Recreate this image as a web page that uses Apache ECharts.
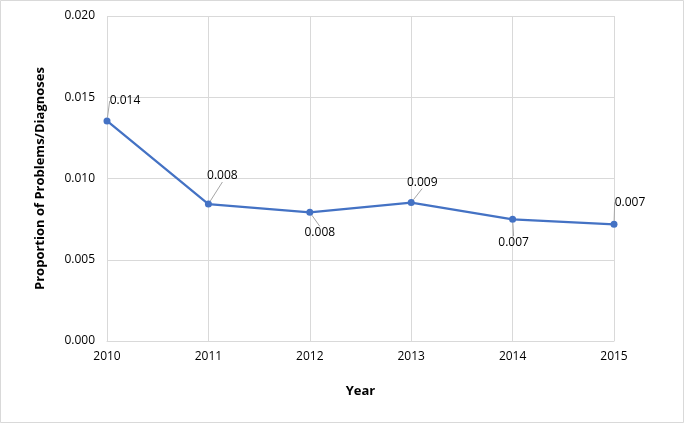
<!DOCTYPE html>
<html>
<head>
<meta charset="utf-8">
<script src="https://cdn.jsdelivr.net/npm/echarts@6/dist/echarts.min.js"></script>
<style>
html,body{margin:0;padding:0;background:#fff;}
#c{width:685px;height:424px;}
</style>
</head>
<body>
<div id="c"></div>
<script>
var years = ['2010','2011','2012','2013','2014','2015'];
var proportions = [0.01354, 0.00843, 0.00792, 0.00852, 0.00749, 0.00718];
var yTicks = {min: 0, max: 0.02, interval: 0.005};
var labelOffsets = [[18,-20],[14,-28],[10,20],[11,-20],[1,23],[16,-22]];

var chart = echarts.init(document.getElementById('c'), null, {renderer:'canvas'});
var font = 'Open Sans, Noto Sans, sans-serif';
chart.setOption({
  animation: false,
  backgroundColor: '#fff',
  graphic: [{type:'rect', shape:{x:0.5,y:0.5,width:683,height:422}, style:{fill:'none', stroke:'#d9d9d9', lineWidth:1}, silent:true}],
  grid: {left:107, right:71, top:16, bottom:83},
  xAxis: {
    type:'category', data: years, boundaryGap:false,
    name:'Year', nameLocation:'middle', nameGap:44,
    nameTextStyle:{fontFamily:font, fontSize:13, fontWeight:'bold', color:'#000'},
    axisLine:{lineStyle:{color:'#d9d9d9'}},
    axisTick:{show:false},
    axisLabel:{fontFamily:font, fontSize:12, color:'#000', margin:10},
    splitLine:{show:true, lineStyle:{color:'#d9d9d9'}}
  },
  yAxis: {
    type:'value', min:yTicks.min, max:yTicks.max, interval:yTicks.interval,
    name:'Proportion of Problems/Diagnoses', nameLocation:'middle', nameGap:60,
    nameTextStyle:{fontFamily:font, fontSize:13, fontWeight:'bold', color:'#000'},
    axisLine:{show:false}, axisTick:{show:false},
    axisLabel:{fontFamily:font, fontSize:12, color:'#000', margin:12, formatter:function(v){return v.toFixed(3);}},
    splitLine:{lineStyle:{color:'#d9d9d9'}}
  },
  series: [{
    type:'line', data: proportions,
    symbol:'circle', symbolSize:7,
    itemStyle:{color:'#4472C4'},
    lineStyle:{color:'#4472C4', width:2.25},
    label:{show:true, position:'inside', fontFamily:font, fontSize:12, color:'#000',
      formatter:function(p){return p.value.toFixed(3);}},
    labelLine:{show:true, lineStyle:{color:'#a6a6a6', width:1}},
    labelLayout:function(p){var o=labelOffsets[p.dataIndex]; return {dx:o[0], dy:o[1]};}
  }]
});
</script>
</body>
</html>
